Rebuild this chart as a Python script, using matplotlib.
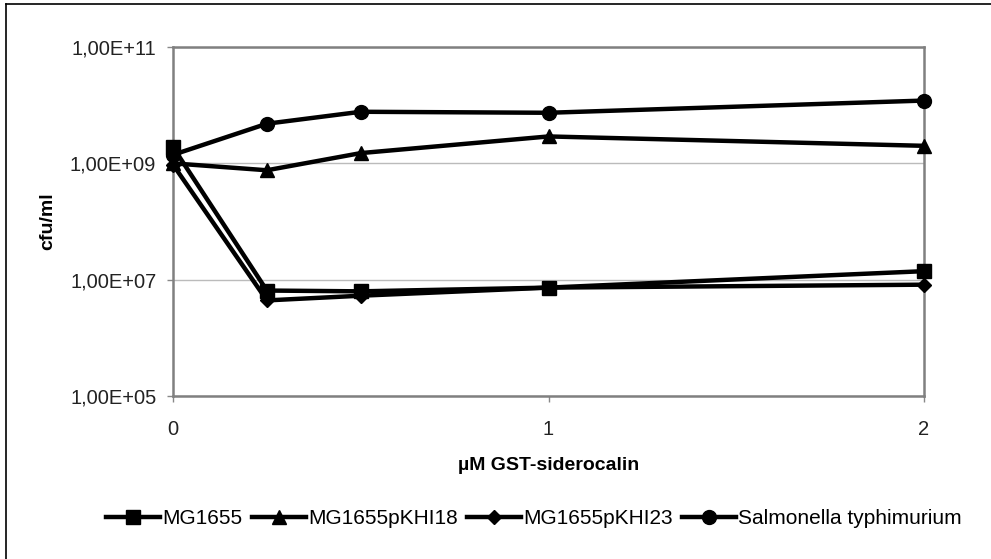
import numpy as np
import matplotlib.pyplot as plt
from matplotlib.lines import Line2D

plt.rcParams['font.family'] = ['Liberation Sans', 'DejaVu Sans']

# uM GST-siderocalin
conc = [0, 0.25, 0.5, 1, 2]
# cfu/ml per strain
mg1655 = [1.9e9, 6.5e6, 6.3e6, 7.3e6, 1.4e7]
pkhi18 = [1.0e9, 7.6e8, 1.5e9, 2.9e9, 2.0e9]
pkhi23 = [9.5e8, 4.4e6, 5.3e6, 7.3e6, 8.2e6]
salmonella = [1.4e9, 4.8e9, 7.7e9, 7.4e9, 1.2e10]

series = [
    ("MG1655", mg1655, "s", 10),
    ("MG1655pKHI18", pkhi18, "^", 10),
    ("MG1655pKHI23", pkhi23, "D", 7),
    ("Salmonella typhimurium", salmonella, "o", 10),
]
ytick_vals = [1e5, 1e7, 1e9, 1e11]
ytick_lbls = ["1,00E+05", "1,00E+07", "1,00E+09", "1,00E+11"]

fig = plt.figure(figsize=(9.91, 5.59), dpi=100)
ax = fig.add_axes([173/991, 1-396/559, (924-173)/991, (396-47)/559])

for name, vals, mk, ms in series:
    ax.plot(conc, vals, color='black', lw=3.2, marker=mk, markersize=ms,
            label=name, clip_on=False, zorder=3)

ax.set_yscale('log')
ax.set_ylim(1e5, 1e11)
ax.set_xlim(0, 2)
ax.set_yticks(ytick_vals)
ax.set_yticklabels(ytick_lbls)
ax.yaxis.set_minor_locator(plt.NullLocator())
ax.set_xticks([0, 1, 2])
ax.set_xticklabels(["0", "1", "2"])
ax.tick_params(axis='y', length=4, width=1, color='#888888', pad=8, labelsize=14.5, labelcolor='#222222')
ax.tick_params(axis='x', length=4, width=1, color='#888888', pad=13, labelsize=14.5, labelcolor='#222222')
ax.grid(axis='y', color='#bbbbbb', lw=1)
ax.set_axisbelow(True)
for s in ax.spines.values():
    s.set_color('#808080')
    s.set_linewidth(1.8)

ax.set_ylabel("cfu/ml", fontsize=14, fontweight='bold', labelpad=10)
ax.set_xlabel("µM GST-siderocalin", fontsize=14, fontweight='bold', labelpad=13)

fig.legend(loc='center', bbox_to_anchor=(534/991, 1-519/559), ncol=4, frameon=False,
           fontsize=15, handlelength=2.6, handletextpad=0.1, columnspacing=0.45)

# outer frame (top and left only visible)
fig.add_artist(Line2D([6/991, 1], [1-4/559, 1-4/559], color='black', lw=1.2, transform=fig.transFigure))
fig.add_artist(Line2D([6/991, 6/991], [0, 1-4/559], color='black', lw=1.2, transform=fig.transFigure))

fig.savefig("out.png", dpi=100)
